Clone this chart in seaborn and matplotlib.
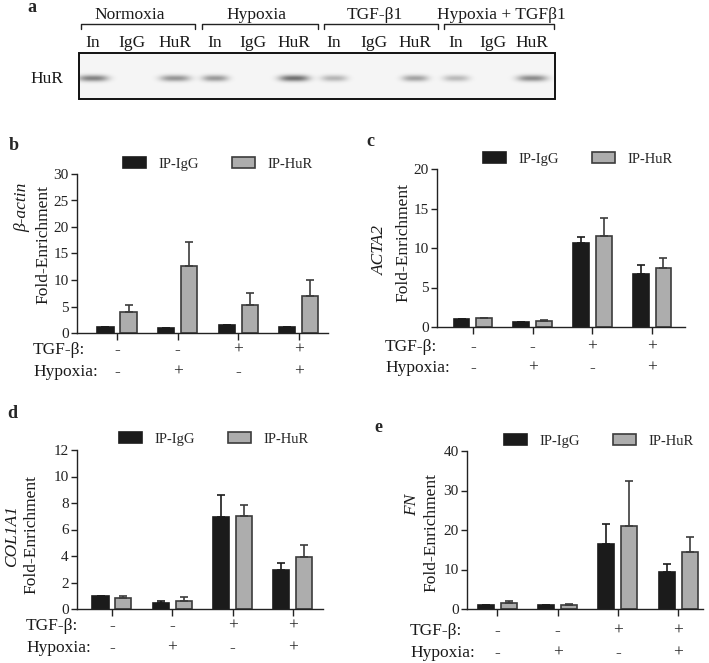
import numpy as np
import pandas as pd
import matplotlib
matplotlib.use("Agg")
import matplotlib.pyplot as plt
import seaborn as sns

# ---------------- data ----------------
conditions = ["Control", "Hypoxia", "TGF-β", "TGF-β + Hypoxia"]
tgf_signs = ["-", "-", "+", "+"]
hypoxia_signs = ["-", "+", "-", "+"]
ip_levels = ["IP-IgG", "IP-HuR"]

beta_actin_igg = [1.05, 0.95, 1.45, 1.1]
beta_actin_igg_err = [0.0, 0.05, 0.12, 0.12]
beta_actin_hur = [4.0, 12.7, 5.2, 7.0]
beta_actin_hur_err = [1.2, 4.5, 2.3, 3.0]

acta2_igg = [1.05, 0.62, 10.6, 6.7]
acta2_igg_err = [0.0, 0.05, 0.8, 1.2]
acta2_hur = [1.13, 0.75, 11.5, 7.45]
acta2_hur_err = [0.05, 0.1, 2.35, 1.25]

col1a1_igg = [1.0, 0.43, 6.98, 2.97]
col1a1_igg_err = [0.0, 0.15, 1.6, 0.5]
col1a1_hur = [0.83, 0.63, 7.03, 3.96]
col1a1_hur_err = [0.15, 0.25, 0.8, 0.9]

fn_igg = [1.0, 1.0, 16.5, 9.37]
fn_igg_err = [0.0, 0.0, 5.0, 2.1]
fn_hur = [1.6, 1.0, 21.1, 14.35]
fn_hur_err = [0.35, 0.25, 11.4, 3.95]

# western blot (panel a)
blot_groups = ["Normoxia", "Hypoxia", "TGF-β1", "Hypoxia + TGFβ1"]
lane_labels = ["In", "IgG", "HuR"] * 4
band_intensity = [0.5, 0.0, 0.42, 0.4, 0.0, 0.58, 0.28, 0.0, 0.36, 0.26, 0.0, 0.46]

# ---------------- style ----------------
sns.set_theme(style="ticks")
plt.rcParams['font.family'] = ['Liberation Serif', 'DejaVu Serif']
plt.rcParams['axes.linewidth'] = 1.0

W, H = 709, 663
fig = plt.figure(figsize=(W / 100, H / 100), dpi=100)


def px_rect(x0, y0, x1, y1):
    return [x0 / W, 1 - y1 / H, (x1 - x0) / W, (y1 - y0) / H]


def ftext(x, y, s, **kw):
    fig.text(x / W, 1 - y / H, s, **kw)


BLACK = "#1b1b1b"
GRAY = "#adadad"
GRAY_EDGE = "#3c3c3c"
TXT = "#1a1a1a"

# ---------------- panel a: blot ----------------
ax_a = fig.add_axes([0, 1 - 110 / H, 1, 110 / H])
ax_a.set_xlim(0, W)
ax_a.set_ylim(110, 0)
ax_a.axis("off")

lane_x = [93, 132, 175, 215, 253, 294, 334, 374, 415, 456, 493, 532]
blot_left, blot_right, blot_top, blot_bottom = 79, 555, 53, 99
band_y = 78
xs = np.arange(blot_left, blot_right, 0.5)
ys = np.arange(blot_top, blot_bottom, 0.5)
X, Y = np.meshgrid(xs, ys)
img = np.full(X.shape, 0.04)
for lx, inten in zip(lane_x, band_intensity):
    half = 15 if inten > 0.4 else 13
    img += inten * np.exp(-np.abs((X - lx) / half) ** 3) * np.exp(-((Y - band_y) / 3.2) ** 2)
ax_a.imshow(img, extent=(blot_left, blot_right, blot_bottom, blot_top), cmap="gray_r",
            vmin=0, vmax=1.1, aspect="auto", interpolation="bilinear")
ax_a.add_patch(plt.Rectangle((blot_left, blot_top), blot_right - blot_left, blot_bottom - blot_top,
                             fill=False, lw=1.4, ec="#111111"))
for lx, lab in zip(lane_x, lane_labels):
    ax_a.text(lx, 43, lab, ha="center", va="center", fontsize=12.5, color=TXT)
bracket_x = [(81, 195), (202, 318), (324, 438), (444, 554)]
group_x = [130, 256, 375, 501]
for (bx0, bx1), gx, gname in zip(bracket_x, group_x, blot_groups):
    ax_a.plot([bx0, bx0, bx1, bx1], [29, 24, 24, 29], color="#222222", lw=1.0)
    ax_a.text(gx, 15, gname, ha="center", va="center", fontsize=12.5, color=TXT)
ax_a.text(47, 79, "HuR", ha="center", va="center", fontsize=12.5, color=TXT)
ax_a.text(32, 8, "a", ha="center", va="center", fontsize=13, fontweight="bold")

# ---------------- bar panels ----------------
panels = [
    dict(letter="b", letter_xy=(14, 145), rect=(77, 174, 328, 333), ymax=30, ystep=5,
         xlim=(-0.66, 3.48), gene="β-actin", gene_xy=(22, 207), fold_xy=(43, 245),
         sign_y=(350, 372), sign_lx=33, leg_x=123, leg_y=164,
         igg=beta_actin_igg, igg_err=beta_actin_igg_err, hur=beta_actin_hur, hur_err=beta_actin_hur_err),
    dict(letter="c", letter_xy=(370, 142), rect=(437, 169, 685, 327), ymax=20, ystep=5,
         xlim=(-0.60, 3.55), gene="ACTA2", gene_xy=(380, 250), fold_xy=(403, 243),
         sign_y=(347, 368), sign_lx=385, leg_x=483, leg_y=159,
         igg=acta2_igg, igg_err=acta2_igg_err, hur=acta2_hur, hur_err=acta2_hur_err),
    dict(letter="d", letter_xy=(12, 413), rect=(77, 450, 323, 609), ymax=12, ystep=2,
         xlim=(-0.58, 3.5), gene="COL1A1", gene_xy=(12, 536), fold_xy=(31, 535),
         sign_y=(626, 648), sign_lx=26, leg_x=119, leg_y=439,
         igg=col1a1_igg, igg_err=col1a1_igg_err, hur=col1a1_hur, hur_err=col1a1_hur_err),
    dict(letter="e", letter_xy=(378, 427), rect=(467, 451, 703, 609), ymax=40, ystep=10,
         xlim=(-0.5, 3.41), gene="FN", gene_xy=(412, 505), fold_xy=(431, 533),
         sign_y=(631, 653), sign_lx=410, leg_x=504, leg_y=441,
         igg=fn_igg, igg_err=fn_igg_err, hur=fn_hur, hur_err=fn_hur_err),
]

for p in panels:
    ax = fig.add_axes(px_rect(*p["rect"]))
    df = pd.DataFrame({
        "condition": conditions * 2,
        "ip": [ip_levels[0]] * 4 + [ip_levels[1]] * 4,
        "value": list(p["igg"]) + list(p["hur"]),
    })
    sns.barplot(data=df, x="condition", y="value", hue="ip", hue_order=ip_levels,
                palette=[BLACK, GRAY], width=0.76, gap=0.3, errorbar=None,
                linewidth=1.2, legend=False, ax=ax, saturation=1)
    errs = [p["igg_err"], p["hur_err"]]
    edge_cols = [BLACK, GRAY_EDGE]
    handles = []
    for cont, err, ec in zip(ax.containers, errs, edge_cols):
        for bar in cont:
            bar.set_edgecolor(ec)
        cx = [b.get_x() + b.get_width() / 2 for b in cont]
        cy = [b.get_height() for b in cont]
        ax.errorbar(cx, cy, yerr=[np.zeros(len(err)), err], fmt="none", ecolor=ec,
                    elinewidth=1.2, capsize=3.2, capthick=1.2, zorder=1)
        handles.append(cont[0])
    ax.set_ylim(0, p["ymax"])
    ax.set_xlim(*p["xlim"])
    ax.set_yticks(np.arange(0, p["ymax"] + 0.1, p["ystep"]))
    ax.set_yticklabels([str(int(v)) for v in np.arange(0, p["ymax"] + 0.1, p["ystep"])])
    ax.set_xticks(range(len(conditions)))
    ax.set_xticklabels([])
    ax.set_xlabel("")
    ax.set_ylabel("")
    ax.tick_params(axis="y", length=4, width=1.0, labelsize=11, pad=2, colors="#222222")
    ax.tick_params(axis="x", length=5, width=1.0, colors="#222222")
    for s in ["top", "right"]:
        ax.spines[s].set_visible(False)
    for s in ["left", "bottom"]:
        ax.spines[s].set_color("#222222")

    # sign rows
    trans = ax.get_xaxis_transform()
    ax_bottom_px = p["rect"][3]
    ax_h = p["rect"][3] - p["rect"][1]
    for row_y, signs, lab in zip(p["sign_y"], [tgf_signs, hypoxia_signs], ["TGF-β:", "Hypoxia:"]):
        yax = -(row_y - ax_bottom_px) / ax_h
        for i, s in enumerate(signs):
            ax.text(i, yax, s, transform=trans, ha="center", va="center", fontsize=12.5,
                    color="#222222", clip_on=False)
        ftext(p["sign_lx"], row_y, lab, ha="left", va="center", fontsize=12.5, color=TXT)

    # y labels
    ftext(p["gene_xy"][0], p["gene_xy"][1], p["gene"], rotation=90, ha="center", va="center",
          fontsize=12.5, style="italic", color=TXT)
    ftext(p["fold_xy"][0], p["fold_xy"][1], "Fold-Enrichment", rotation=90, ha="center",
          va="center", fontsize=12.5, color=TXT)
    ftext(p["letter_xy"][0], p["letter_xy"][1], p["letter"], ha="center", va="center",
          fontsize=13, fontweight="bold")

    # legend
    ax.legend(handles=handles, labels=ip_levels, ncol=2, frameon=False, fontsize=10.5,
              loc="center left", bbox_to_anchor=(p["leg_x"] / W, 1 - p["leg_y"] / H),
              bbox_transform=fig.transFigure, borderpad=0, borderaxespad=0,
              handlelength=1.6, handleheight=0.7, handletextpad=0.8, columnspacing=2.3)

fig.savefig("out.png", dpi=100)
